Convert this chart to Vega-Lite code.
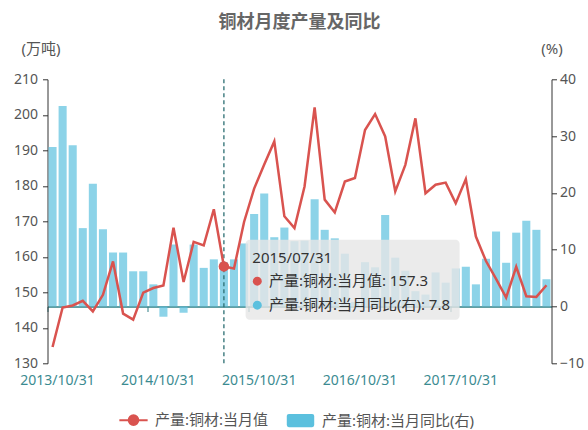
{
  "$schema": "https://vega.github.io/schema/vega-lite/v6.json",
  "width": 504,
  "height": 284,
  "autosize": {"type": "none"},
  "padding": {"left": 47.5, "top": 79.3, "right": 36.5, "bottom": 66.7},
  "background": "white",
  "config": {
    "view": {"stroke": null},
    "font": "Noto Sans, Noto Sans CJK SC",
    "axis": {"labelFont": "Noto Sans, Noto Sans CJK SC", "titleFont": "Noto Sans, Noto Sans CJK SC", "grid": false}
  },
  "title": {
    "text": "铜材月度产量及同比",
    "fontSize": 18,
    "fontWeight": "bold",
    "color": "#666666",
    "anchor": "middle",
    "offset": 9,
    "font": "Noto Sans CJK SC"
  },
  "data": {
    "values": [
      {"date": "2013/10/31", "value": 134.6, "pct": 28.1},
      {"date": "2013/11/30", "value": 145.7, "pct": 35.3},
      {"date": "2013/12/31", "value": 146.3, "pct": 28.4},
      {"date": "2014/03/31", "value": 147.6, "pct": 13.8},
      {"date": "2014/04/30", "value": 144.6, "pct": 21.6},
      {"date": "2014/05/31", "value": 149.3, "pct": 13.6},
      {"date": "2014/06/30", "value": 158.7, "pct": 9.5},
      {"date": "2014/07/31", "value": 144.0, "pct": 9.5},
      {"date": "2014/08/31", "value": 142.3, "pct": 6.2},
      {"date": "2014/09/30", "value": 149.9, "pct": 6.2},
      {"date": "2014/10/31", "value": 151.2, "pct": 3.9},
      {"date": "2014/11/30", "value": 151.9, "pct": -1.8},
      {"date": "2014/12/31", "value": 168.2, "pct": 10.9},
      {"date": "2015/03/31", "value": 152.9, "pct": -1.1},
      {"date": "2015/04/30", "value": 164.2, "pct": 10.9},
      {"date": "2015/05/31", "value": 163.2, "pct": 6.8},
      {"date": "2015/06/30", "value": 173.4, "pct": 8.3},
      {"date": "2015/07/31", "value": 157.3, "pct": 7.8},
      {"date": "2015/08/31", "value": 156.7, "pct": 8.3},
      {"date": "2015/09/30", "value": 169.8, "pct": 11.1},
      {"date": "2015/10/31", "value": 179.2, "pct": 16.3},
      {"date": "2015/11/30", "value": 186.0, "pct": 19.9},
      {"date": "2015/12/31", "value": 192.5, "pct": 12.2},
      {"date": "2016/03/31", "value": 171.4, "pct": 13.9},
      {"date": "2016/04/30", "value": 168.1, "pct": 11.5},
      {"date": "2016/05/31", "value": 179.8, "pct": 11.6},
      {"date": "2016/06/30", "value": 202.1, "pct": 18.9},
      {"date": "2016/07/31", "value": 176.1, "pct": 13.5},
      {"date": "2016/08/31", "value": 172.5, "pct": 12.0},
      {"date": "2016/09/30", "value": 181.2, "pct": 9.3},
      {"date": "2016/10/31", "value": 182.2, "pct": 0.8},
      {"date": "2016/11/30", "value": 195.7, "pct": 7.8},
      {"date": "2016/12/31", "value": 200.2, "pct": 6.9},
      {"date": "2017/03/31", "value": 193.9, "pct": 16.1},
      {"date": "2017/04/30", "value": 178.4, "pct": 8.6},
      {"date": "2017/05/31", "value": 185.9, "pct": 6.3},
      {"date": "2017/06/30", "value": 199.0, "pct": 2.7},
      {"date": "2017/07/31", "value": 177.9, "pct": 2.1},
      {"date": "2017/08/31", "value": 180.3, "pct": 6.0},
      {"date": "2017/09/30", "value": 180.9, "pct": 4.2},
      {"date": "2017/10/31", "value": 175.1, "pct": 6.7},
      {"date": "2017/11/30", "value": 181.9, "pct": 7.0},
      {"date": "2017/12/31", "value": 165.7, "pct": 3.9},
      {"date": "2018/03/31", "value": 158.8, "pct": 8.4},
      {"date": "2018/04/30", "value": 153.8, "pct": 13.2},
      {"date": "2018/05/31", "value": 148.5, "pct": 7.7},
      {"date": "2018/06/30", "value": 157.2, "pct": 13.0},
      {"date": "2018/07/31", "value": 148.9, "pct": 15.1},
      {"date": "2018/08/31", "value": 148.7, "pct": 13.5},
      {"date": "2018/09/30", "value": 152.0, "pct": 4.8}
    ]
  },
  "resolve": {"scale": {"y": "independent"}},
  "layer": [
    {
      "mark": {"type": "bar", "opacity": 0.7, "width": {"band": 0.8}},
      "encoding": {
        "x": {
          "field": "date",
          "type": "nominal",
          "sort": null,
          "scale": {"paddingInner": 0, "paddingOuter": 0},
          "axis": {
            "values": ["2013/10/31", "2014/10/31", "2015/10/31", "2016/10/31", "2017/10/31"],
            "orient": "bottom",
            "offset": -56.8,
            "title": null,
            "domainColor": "#2f7f85",
            "domainWidth": 1.5,
            "tickColor": "#2f7f85",
            "tickSize": 5,
            "bandPosition": 0,
            "labelOffset": 5,
            "labelPadding": 62,
            "labelAngle": 0,
            "labelColor": "#3b8b91",
            "labelFontSize": 14
          }
        },
        "y": {
          "field": "pct",
          "type": "quantitative",
          "scale": {"domain": [-10, 40], "nice": false},
          "axis": {
            "orient": "right",
            "values": [-10, 0, 10, 20, 30, 40],
            "title": "(%)",
            "titleAngle": 0,
            "titleX": 0,
            "titleY": -31,
            "titleAlign": "center",
            "titleBaseline": "middle",
            "titleFontWeight": "normal",
            "titleFontSize": 15,
            "titleColor": "#555555",
            "domainColor": "#333333",
            "tickColor": "#333333",
            "tickSize": 5,
            "labelPadding": 3,
            "labelColor": "#555555",
            "labelFontSize": 14
          }
        },
        "color": {
          "datum": "产量:铜材:当月同比(右)",
          "scale": {"domain": ["产量:铜材:当月值", "产量:铜材:当月同比(右)"], "range": ["#d9534f", "#5bc0de"]},
          "legend": {
            "orient": "none",
            "legendX": 78.5,
            "legendY": 333,
            "direction": "horizontal",
            "title": null,
            "labelFontSize": 15,
            "labelColor": "#555555",
            "labelOffset": 14,
            "labelLimit": 300,
            "columnPadding": 17,
            "symbolSize": 800,
            "symbolOpacity": 1,
            "symbolType": {"expr": "datum.value === '产量:铜材:当月值' ? 'M-1,0L1,0M-0.34,0A0.34,0.34 0 1,0 0.34,0A0.34,0.34 0 1,0 -0.34,0' : 'M-0.82,-0.47L0.82,-0.47Q0.97,-0.47 0.97,-0.32L0.97,0.32Q0.97,0.47 0.82,0.47L-0.82,0.47Q-0.97,0.47 -0.97,0.32L-0.97,-0.32Q-0.97,-0.47 -0.82,-0.47Z'"},
            "symbolStrokeColor": {"expr": "datum.value === '产量:铜材:当月值' ? '#d9534f' : '#5bc0de'"},
            "symbolStrokeWidth": {"expr": "datum.value === '产量:铜材:当月值' ? 2 : 0"}
          }
        }
      }
    },
    {
      "transform": [{"filter": "datum.date === '2015/07/31'"}],
      "mark": {"type": "rule", "color": "#2b6e72", "strokeWidth": 1.3, "strokeDash": [4, 3]},
      "encoding": {"x": {"field": "date", "type": "nominal", "sort": null}}
    },
    {
      "encoding": {
        "x": {"field": "date", "type": "nominal", "sort": null},
        "y": {
          "field": "value",
          "type": "quantitative",
          "scale": {"domain": [130, 210], "nice": false, "zero": false},
          "axis": {
            "orient": "left",
            "values": [130, 140, 150, 160, 170, 180, 190, 200, 210],
            "labelOverlap": false,
            "title": "(万吨)",
            "titleAngle": 0,
            "titleX": -7,
            "titleY": -31,
            "titleAlign": "center",
            "titleBaseline": "middle",
            "titleFontWeight": "normal",
            "titleFontSize": 15,
            "titleColor": "#555555",
            "domainColor": "#333333",
            "tickColor": "#333333",
            "tickSize": 5,
            "labelPadding": 5,
            "labelColor": "#555555",
            "labelFontSize": 14
          }
        }
      },
      "layer": [
        {
          "mark": {"type": "line", "strokeWidth": 2.5},
          "encoding": {"color": {"datum": "产量:铜材:当月值"}}
        },
        {
          "transform": [{"filter": "datum.date === '2015/07/31'"}],
          "mark": {"type": "point", "filled": true, "opacity": 1, "size": 110, "color": "#d9534f"}
        },
        {
          "transform": [{"filter": "datum.date === '2015/07/31'"}],
          "mark": {"type": "rect", "fill": "#e6e6e6", "opacity": 0.8, "cornerRadius": 4, "width": 214, "xOffset": 128.7, "yOffset": -26.7, "y2Offset": 53.3},
          "encoding": {"y2": {"field": "value"}}
        },
        {
          "transform": [{"filter": "datum.date === '2015/07/31'"}],
          "mark": {"type": "text", "align": "left", "baseline": "middle", "dx": 28.4, "dy": -8.4, "fontSize": 15, "color": "#333333"},
          "encoding": {"text": {"field": "date"}}
        },
        {
          "transform": [{"filter": "datum.date === '2015/07/31'"}],
          "mark": {"type": "point", "filled": true, "opacity": 1, "size": 80, "color": "#d9534f", "xOffset": 33.4, "yOffset": 14.8}
        },
        {
          "transform": [{"filter": "datum.date === '2015/07/31'"}],
          "mark": {"type": "point", "filled": true, "opacity": 1, "size": 80, "color": "#5bc0de", "xOffset": 33.4, "yOffset": 38.8}
        },
        {
          "transform": [
            {"filter": "datum.date === '2015/07/31'"},
            {"calculate": "'产量:铜材:当月值: ' + datum.value", "as": "label1"}
          ],
          "mark": {"type": "text", "align": "left", "baseline": "middle", "dx": 45, "dy": 15, "fontSize": 15, "color": "#333333"},
          "encoding": {"text": {"field": "label1"}}
        },
        {
          "transform": [
            {"filter": "datum.date === '2015/07/31'"},
            {"calculate": "'产量:铜材:当月同比(右): ' + datum.pct", "as": "label2"}
          ],
          "mark": {"type": "text", "align": "left", "baseline": "middle", "dx": 45, "dy": 39, "fontSize": 15, "color": "#333333"},
          "encoding": {"text": {"field": "label2"}}
        }
      ]
    }
  ]
}
